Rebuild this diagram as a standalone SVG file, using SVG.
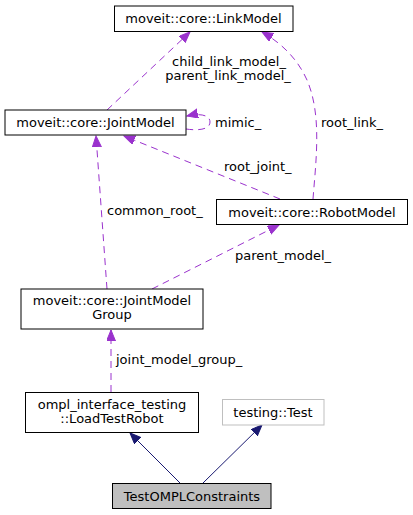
<svg xmlns="http://www.w3.org/2000/svg" width="413" height="515" viewBox="0 0 413 515">
<defs>
<style>
.box{fill:#ffffff;stroke:#000000;stroke-width:1}
.grey{fill:#ffffff;stroke:#bfbfbf;stroke-width:1}
.cur{fill:#bfbfbf;stroke:#000000;stroke-width:1}
text{font-family:"DejaVu Sans","Liberation Sans",sans-serif;font-size:13px;fill:#000000}
.c{text-anchor:middle}
.use{fill:none;stroke:#9a32cd;stroke-width:1;stroke-dasharray:7,5}
.inh{fill:none;stroke:#191970;stroke-width:1}
</style>
<marker id="ap" markerUnits="userSpaceOnUse" markerWidth="12" markerHeight="10" refX="11" refY="4.5" orient="auto">
<path d="M0,0 L11,4.5 L0,9 z" fill="#9a32cd" stroke="#9a32cd"/>
</marker>
<marker id="an" markerUnits="userSpaceOnUse" markerWidth="12" markerHeight="10" refX="11" refY="4.5" orient="auto">
<path d="M0,0 L11,4.5 L0,9 z" fill="#191970" stroke="#191970"/>
</marker>
</defs>
<g id="edges">
<path class="use" d="M107,110 L190,32" marker-end="url(#ap)"/>
<path class="use" d="M313,199 C316,160 322,115 307,80 C298,60 283,44 262,32" marker-end="url(#ap)"/>
<path class="use" d="M186,129 C200,131 210,129 210,122 C210,115 200,113 187,116" marker-end="url(#ap)"/>
<path class="use" d="M280,199 L124,136" marker-end="url(#ap)"/>
<path class="use" d="M107,289 L96,136" marker-end="url(#ap)"/>
<path class="use" d="M152,289 L279,225" marker-end="url(#ap)"/>
<path class="use" d="M111,392 L111,330" marker-end="url(#ap)"/>
<path class="inh" d="M180,483 L130,433" marker-end="url(#an)"/>
<path class="inh" d="M203,483 L262,425" marker-end="url(#an)"/>
<text x="229" y="66" class="c">child_link_model_</text>
<text x="228" y="80" class="c">parent_link_model_</text>
<text x="215" y="127">mimic_</text>
<text x="321" y="127">root_link_</text>
<text x="224" y="171">root_joint_</text>
<text x="107" y="215">common_root_</text>
<text x="235" y="260">parent_model_</text>
<text x="116" y="364">joint_model_group_</text>
</g>
<g id="LinkModel">
<rect class="box" x="114.5" y="6" width="178.5" height="25.5"/>
<text x="203.5" y="23" class="c">moveit::core::LinkModel</text>
</g>
<g id="JointModel">
<rect class="box" x="5" y="110" width="181" height="25"/>
<text x="95.5" y="127" class="c">moveit::core::JointModel</text>
</g>
<g id="RobotModel">
<rect class="box" x="216.5" y="199.5" width="191" height="25"/>
<text x="312" y="216.5" class="c">moveit::core::RobotModel</text>
</g>
<g id="JointModelGroup">
<rect class="box" x="21" y="289" width="182" height="40"/>
<text x="112" y="305" class="c">moveit::core::JointModel</text>
<text x="112" y="319" class="c">Group</text>
</g>
<g id="LoadTestRobot">
<rect class="box" x="25.5" y="392.5" width="173" height="40"/>
<text x="112" y="409" class="c">ompl_interface_testing</text>
<text x="112" y="423" class="c">::LoadTestRobot</text>
</g>
<g id="TestingTest">
<rect class="grey" x="222.5" y="399.5" width="101.5" height="25.5"/>
<text x="273" y="416.5" class="c">testing::Test</text>
</g>
<g id="TestOMPLConstraints">
<rect class="cur" x="112.5" y="483.5" width="158.5" height="25"/>
<text x="192" y="500.5" class="c">TestOMPLConstraints</text>
</g>
</svg>
